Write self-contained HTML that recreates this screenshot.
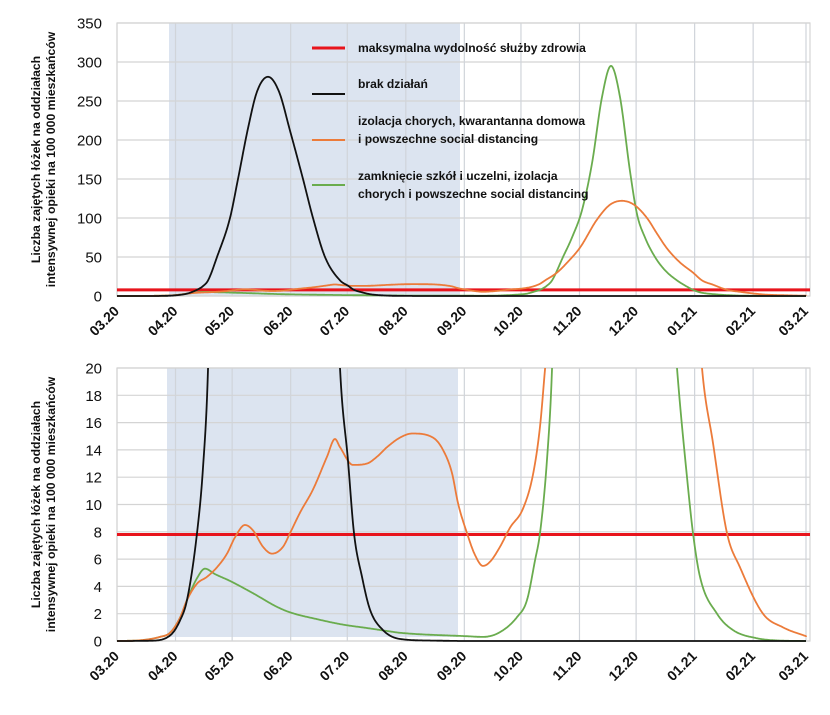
<!DOCTYPE html>
<html><head><meta charset="utf-8"><style>
body{margin:0;background:#fff;width:830px;height:715px;overflow:hidden}
svg{display:block;font-family:"Liberation Sans",Arial,sans-serif}
</style></head><body>
<svg id="s" width="830" height="715" viewBox="0 0 830 715"></svg>
<script>
const NS="http://www.w3.org/2000/svg";
const s=document.getElementById('s');
function el(t,a,txt){const e=document.createElementNS(NS,t);for(const k in a)e.setAttribute(k,a[k]);if(txt!==undefined)e.textContent=txt;s.appendChild(e);return e;}
const X0=117,X1=806;
const ticks=[0,31,61,92,122,153,184,214,245,275,306,337,365].map(d=>X0+d*(X1-X0)/365);
const labels=["03.20","04.20","05.20","06.20","07.20","08.20","09.20","10.20","11.20","12.20","01.21","02.21","03.21"];
const black=[[117,0],[150,0.02],[170,0.4],[180,1.5],[187,3],[197,7.9],[203,12.7],[208,19.9],[217,50],[230,100],[238,150],[248,215],[257,262],[268,281],[279,262],[290,212],[303,150],[313,100],[325,50],[340,20],[348,13.2],[354,7.9],[362,4.7],[370,2.3],[383,0.8],[400,0.15],[433,0.03],[467,0],[806,0]];
const green=[[117,0],[140,0.05],[160,0.3],[170,0.6],[180,1.7],[187,3.0],[197,4.6],[205,5.3],[215,4.9],[230,4.4],[253,3.5],[277,2.5],[290,2.1],[317,1.6],[343,1.2],[367,0.95],[390,0.7],[400,0.6],[467,0.35],[483,0.3],[500,0.65],[517,1.75],[527,3],[535,5.9],[540,7.9],[547,13.3],[552,19.9],[563,50],[572,75],[582,110],[592,170],[602,255],[611,295],[620,255],[630,160],[637,105],[645,75],[655,50],[665,33],[677,20],[687,12],[693,7.9],[700,4.7],[717,2],[733,0.8],[757,0.2],[780,0.03],[806,0]];
const orange=[[117,0],[140,0.05],[160,0.3],[170,0.6],[180,1.7],[187,3.0],[197,4.2],[207,4.7],[217,5.4],[227,6.4],[235,7.6],[245,8.5],[253,8.1],[263,6.9],[272,6.4],[283,6.9],[290,7.9],[300,9.4],[313,11.1],[327,13.5],[335,14.8],[340,14.2],[353,12.9],[367,13.0],[377,13.5],[387,14.2],[400,14.9],[412,15.2],[433,14.9],[443,14.0],[452,12.3],[458,10.1],[467,7.9],[475,6.3],[483,5.5],[490,5.8],[500,6.9],[510,8.3],[523,9.7],[533,12.2],[540,15.7],[545,19.9],[557,30],[568,44],[580,62],[597,98],[610,117],[622,122],[634,117],[647,100],[657,80],[667,61],[680,43],[693,30],[702,20],[713,14.5],[727,7.9],[740,5.4],[763,2],[783,1],[808,0.3]];
function interp(tab){
  const xs=tab.map(p=>p[0]),ys=tab.map(p=>p[1]);
  const n=xs.length,d=[],m=new Array(n);
  for(let i=0;i<n-1;i++)d.push((ys[i+1]-ys[i])/(xs[i+1]-xs[i]));
  m[0]=d[0];m[n-1]=d[n-2];
  for(let i=1;i<n-1;i++){m[i]=(d[i-1]*d[i]<=0)?0:(d[i-1]+d[i])/2;}
  for(let i=0;i<n-1;i++){if(d[i]==0){m[i]=0;m[i+1]=0;continue;}const a=m[i]/d[i],b=m[i+1]/d[i],h=a*a+b*b;if(h>9){const t=3/Math.sqrt(h);m[i]=t*a*d[i];m[i+1]=t*b*d[i];}}
  const out=[];
  for(let x=xs[0];x<=xs[n-1];x+=0.5){
    let i=0;while(i<n-2&&x>xs[i+1])i++;
    const h=xs[i+1]-xs[i],t=(x-xs[i])/h,t2=t*t,t3=t2*t;
    const y=(2*t3-3*t2+1)*ys[i]+(t3-2*t2+t)*h*m[i]+(-2*t3+3*t2)*ys[i+1]+(t3-t2)*h*m[i+1];
    out.push([Math.min(x,806),Math.max(0,y)]);
  }
  return out;
}
const B=interp(black),G=interp(green),O=interp(orange);
function chart(top,bot,vmax,step,shadeX0,shadeX1,shadeBot,redV,lblY,clipId){
  const sc=(bot-top)/vmax;
  el('rect',{x:shadeX0,y:top,width:shadeX1-shadeX0,height:shadeBot-top,fill:'#dce4f0'});
  for(let v=0;v<=vmax;v+=step){const y=bot-v*sc;el('line',{x1:X0,x2:X1+4,y1:y,y2:y,stroke:'#d4d4d4','stroke-width':1.2});
    el('text',{x:102,y:y+5.5,'text-anchor':'end','font-size':15,fill:'#111'},String(v));}
  ticks.forEach((x,i)=>{el('line',{x1:x,x2:x,y1:top,y2:bot,stroke:'#d0d4da','stroke-width':1.2});
    el('text',{transform:`translate(${x+3},${lblY}) rotate(-45)`,'text-anchor':'end','font-size':14,'font-weight':'bold',fill:'#111'},labels[i]);});
  el('rect',{x:X0,y:top,width:X1+4-X0,height:bot-top,fill:'none',stroke:'#d4d4d4','stroke-width':1.2});
  const cp=el('clipPath',{id:clipId});const r=document.createElementNS(NS,'rect');r.setAttribute('x',X0);r.setAttribute('y',top);r.setAttribute('width',X1+10-X0);r.setAttribute('height',bot-top+2);cp.appendChild(r);
  const path=(arr,c,w)=>el('path',{d:'M'+arr.map(p=>p[0].toFixed(1)+','+(bot-p[1]*sc).toFixed(1)).join('L'),fill:'none',stroke:c,'stroke-width':w,'clip-path':`url(#${clipId})`,'stroke-linejoin':'round'});
  el('line',{x1:X0,x2:X1+4,y1:bot-redV*sc,y2:bot-redV*sc,stroke:'#e8141c','stroke-width':3});
  path(G,'#6aac4e',1.8);path(O,'#ec7b3a',1.8);path(B,'#111',1.8);
  const cy=(top+bot)/2;
  el('text',{transform:`translate(40,${cy}) rotate(-90)`,'text-anchor':'middle','font-size':12.2,'font-weight':'bold',fill:'#111'},'Liczba zajętych łóżek na oddziałach');
  el('text',{transform:`translate(55,${cy}) rotate(-90)`,'text-anchor':'middle','font-size':12.2,'font-weight':'bold',fill:'#111'},'intensywnej opieki na 100 000 mieszkańców');
}
chart(23,296,350,50,169,460,296,7.8,312,'c1');
chart(368,641,20,2,167,458,637,7.8,657,'c2');
const L=[[48,'#e8141c',3],[94,'#111',2],[140,'#ec7b3a',2],[185,'#6aac4e',2]];
L.forEach(l=>el('line',{x1:312,x2:345,y1:l[0],y2:l[0],stroke:l[1],'stroke-width':l[2]}));
const T=[[52,'maksymalna wydolność służby zdrowia'],[88,'brak działań'],[125,'izolacja chorych, kwarantanna domowa'],[143,'i powszechne social distancing'],[180,'zamknięcie szkół i uczelni, izolacja'],[198,'chorych i powszechne social distancing']];
T.forEach(t=>el('text',{x:358,y:t[0],'font-size':12.1,'font-weight':'bold',fill:'#111'},t[1]));
</script>
</body></html>
